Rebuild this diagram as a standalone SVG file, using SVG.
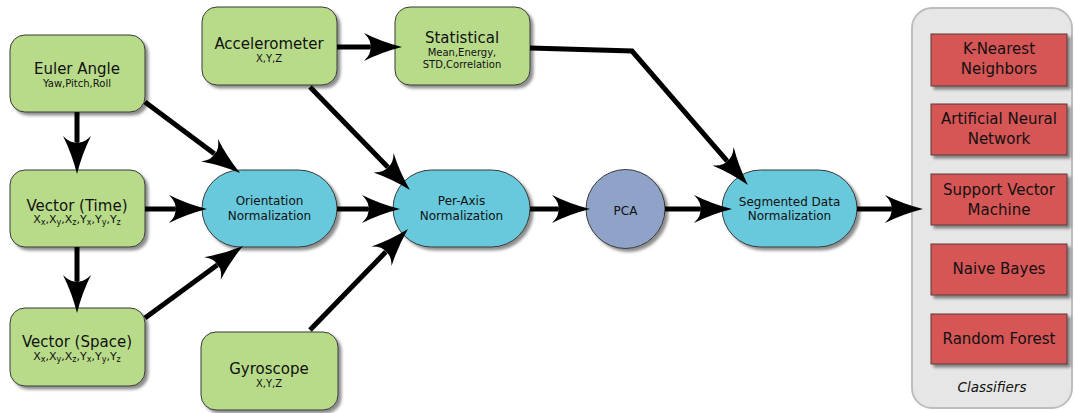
<svg xmlns="http://www.w3.org/2000/svg" width="1075" height="413" viewBox="0 0 1075 413">
<style>
text{font-family:"DejaVu Sans","Liberation Sans",sans-serif;fill:#111;text-anchor:middle}
.t{font-size:15px}
.s{font-size:10px}
.v{font-size:11px}
.sub{font-size:8px}
.n{font-size:12px}
.c{font-size:15px}
.green{fill:#b8db8a;stroke:#3a3a3a;stroke-width:1}
.cyan{fill:#67c9dd;stroke:#3a3a3a;stroke-width:1}
.pca{fill:#8fa3c8;stroke:#3a3a3a;stroke-width:1}
.red{fill:#d65555;stroke:#5a3a3a;stroke-width:1}
.panel{fill:#e6e6e6;stroke:#bdbdbd;stroke-width:2}
.conn{fill:none;stroke:#000;stroke-width:5;marker-end:url(#ah)}
</style>
<defs>
<filter id="sh" x="-10%" y="-10%" width="130%" height="130%">
<feGaussianBlur in="SourceAlpha" stdDeviation="1.5"/>
<feOffset dx="2.5" dy="2.5" result="o"/>
<feComponentTransfer><feFuncA type="linear" slope="0.45"/></feComponentTransfer>
<feMerge><feMergeNode/><feMergeNode in="SourceGraphic"/></feMerge>
</filter>
<marker id="ah" markerUnits="userSpaceOnUse" orient="auto" refX="0" refY="0" markerWidth="40" markerHeight="30" overflow="visible">
<path d="M32,0 Q12,-5 -6,-14 Q2,-6 0,0 Q2,6 -6,14 Q12,5 32,0 Z" fill="#000"/>
</marker>
</defs>

<g id="classifiers">
<rect class="panel" x="912" y="8" width="160" height="400" rx="20"/>
<text x="992" y="392" style="font-size:13.5px;font-style:italic">Classifiers</text>
</g>
<g id="knn"><rect class="red" filter="url(#sh)" x="931" y="34" width="136" height="52"/>
<text class="c" x="999" y="54">K-Nearest</text><text class="c" x="999" y="74">Neighbors</text></g>
<g id="ann"><rect class="red" filter="url(#sh)" x="931" y="104" width="136" height="51"/>
<text class="c" x="999" y="124">Artificial Neural</text><text class="c" x="999" y="144">Network</text></g>
<g id="svm"><rect class="red" filter="url(#sh)" x="931" y="174" width="136" height="51"/>
<text class="c" x="999" y="195">Support Vector</text><text class="c" x="999" y="215">Machine</text></g>
<g id="nb"><rect class="red" filter="url(#sh)" x="931" y="244" width="136" height="51"/>
<text class="c" x="999" y="274">Naive Bayes</text></g>
<g id="rf"><rect class="red" filter="url(#sh)" x="931" y="314" width="136" height="50"/>
<text class="c" x="999" y="344">Random Forest</text></g>

<g id="euler"><rect class="green" filter="url(#sh)" x="10" y="35" width="135" height="77" rx="15"/>
<text class="t" x="77" y="74">Euler Angle</text><text class="s" x="77" y="87">Yaw,Pitch,Roll</text></g>

<g id="vectime"><rect class="green" filter="url(#sh)" x="10" y="170" width="135" height="77" rx="15"/>
<text class="t" x="77" y="211">Vector (Time)</text>
<text class="v" x="77" y="223">X<tspan class="sub" dy="2">x</tspan><tspan dy="-2">,X</tspan><tspan class="sub" dy="2">y</tspan><tspan dy="-2">,X</tspan><tspan class="sub" dy="2">z</tspan><tspan dy="-2">,Y</tspan><tspan class="sub" dy="2">x</tspan><tspan dy="-2">,Y</tspan><tspan class="sub" dy="2">y</tspan><tspan dy="-2">,Y</tspan><tspan class="sub" dy="2">z</tspan></text></g>

<g id="vecspace"><rect class="green" filter="url(#sh)" x="10" y="308" width="135" height="78" rx="15"/>
<text class="t" x="77" y="347">Vector (Space)</text>
<text class="v" x="77" y="360">X<tspan class="sub" dy="2">x</tspan><tspan dy="-2">,X</tspan><tspan class="sub" dy="2">y</tspan><tspan dy="-2">,X</tspan><tspan class="sub" dy="2">z</tspan><tspan dy="-2">,Y</tspan><tspan class="sub" dy="2">x</tspan><tspan dy="-2">,Y</tspan><tspan class="sub" dy="2">y</tspan><tspan dy="-2">,Y</tspan><tspan class="sub" dy="2">z</tspan></text></g>

<g id="accel"><rect class="green" filter="url(#sh)" x="202" y="7" width="135" height="78" rx="15"/>
<text class="t" x="269" y="49">Accelerometer</text><text class="s" x="269" y="62">X,Y,Z</text></g>

<g id="stat"><rect class="green" filter="url(#sh)" x="395" y="7" width="135" height="78" rx="15"/>
<text class="t" x="462" y="43">Statistical</text><text class="s" x="462" y="56">Mean,Energy,</text><text class="s" x="462" y="68">STD,Correlation</text></g>

<g id="gyro"><rect class="green" filter="url(#sh)" x="201" y="332" width="137" height="78" rx="15"/>
<text class="t" x="269" y="374">Gyroscope</text><text class="s" x="269" y="387">X,Y,Z</text></g>

<g id="orient"><rect class="cyan" filter="url(#sh)" x="202" y="170" width="135" height="77" rx="38.5"/>
<text class="n" x="269.5" y="205">Orientation</text><text class="n" x="269.5" y="220">Normalization</text></g>

<g id="peraxis"><rect class="cyan" filter="url(#sh)" x="393" y="170" width="137" height="77" rx="38.5"/>
<text class="n" x="461.5" y="205">Per-Axis</text><text class="n" x="461.5" y="220">Normalization</text></g>

<g id="pcanode"><circle class="pca" filter="url(#sh)" cx="625.5" cy="209" r="39.5"/>
<text class="n" x="625.5" y="215">PCA</text></g>

<g id="segnorm"><rect class="cyan" filter="url(#sh)" x="722" y="170" width="135" height="77" rx="38.5"/>
<text class="n" x="789.5" y="206">Segmented Data</text><text class="n" x="789.5" y="220">Normalization</text></g>

<g id="connectors">
<path class="conn" d="M77,112 L77,142"/>
<path class="conn" d="M77,247 L77,281"/>
<path class="conn" d="M145,102 L214.4,153.8"/>
<path class="conn" d="M145,209 L175,209"/>
<path class="conn" d="M145,318 L217.2,264.9"/>
<path class="conn" d="M337,209 L368,209"/>
<path class="conn" d="M310,87 L387.7,167.1"/>
<path class="conn" d="M310,330 L385.7,252"/>
<path class="conn" d="M337,47 L370,47"/>
<path class="conn" d="M530,209 L558,209"/>
<path class="conn" d="M665,209 L700,209"/>
<path class="conn" d="M530,48 L632,51 L727,160.8"/>
<path class="conn" d="M857,209 L891,209"/>
</g>
</svg>
